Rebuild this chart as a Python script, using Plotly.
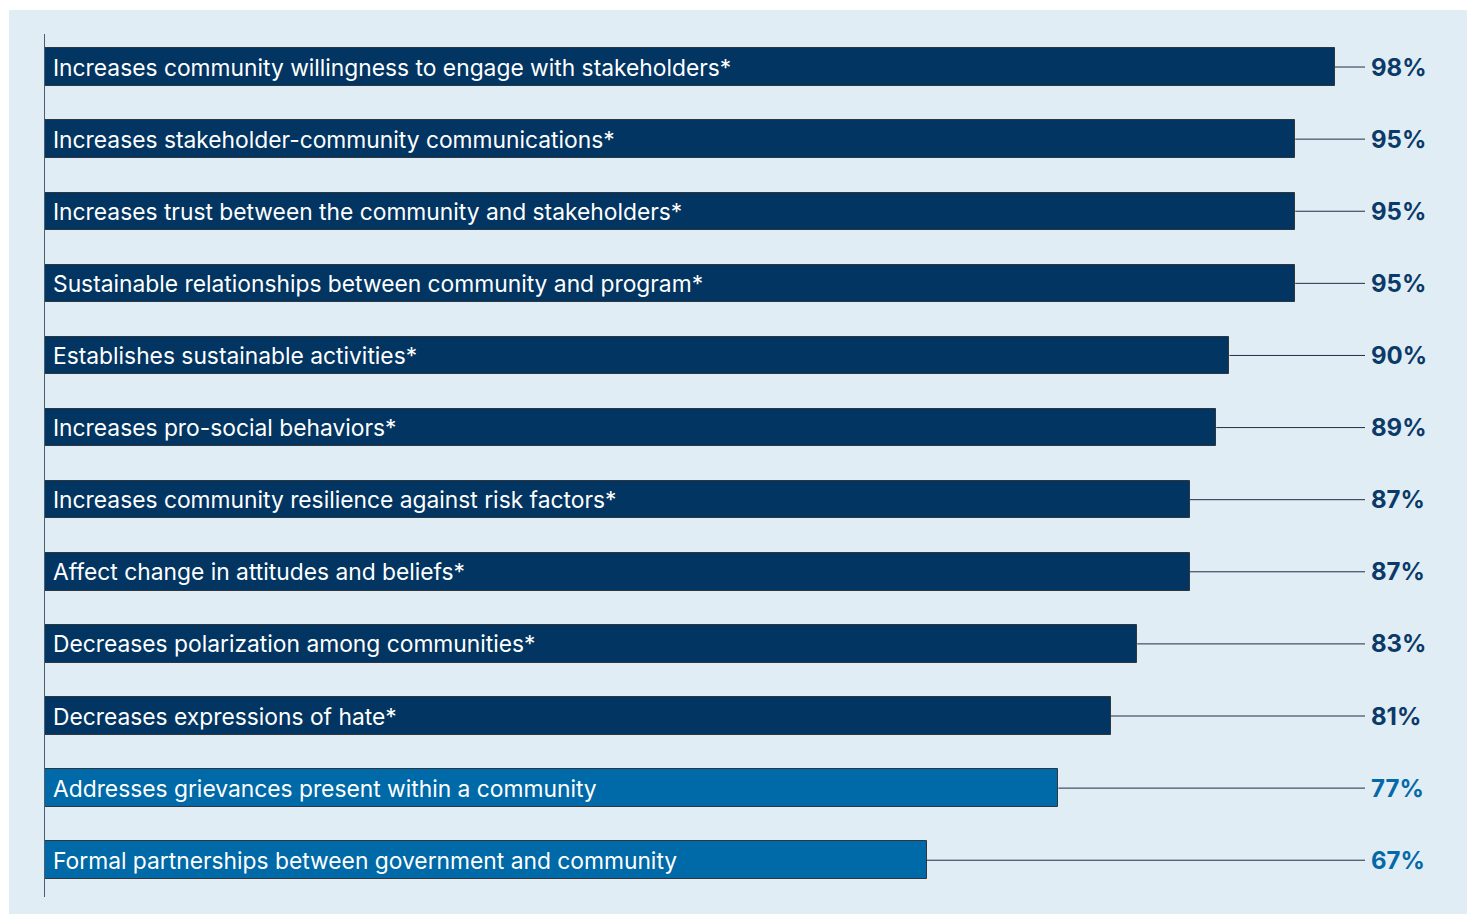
import plotly.graph_objects as go

# Survey outcomes, share of respondents reporting each effect (%)
outcomes = [
    "Increases community willingness to engage with stakeholders*",
    "Increases stakeholder-community communications*",
    "Increases trust between the community and stakeholders*",
    "Sustainable relationships between community and program*",
    "Establishes sustainable activities*",
    "Increases pro-social behaviors*",
    "Increases community resilience against risk factors*",
    "Affect change in attitudes and beliefs*",
    "Decreases polarization among communities*",
    "Decreases expressions of hate*",
    "Addresses grievances present within a community",
    "Formal partnerships between government and community",
]
percent = [98, 95, 95, 95, 90, 89, 87, 87, 83, 81, 77, 67]
significant = [True] * 10 + [False] * 2

DARK = "#023561"
LIGHT = "#0069a7"
LABEL_DARK = "#0b3a68"
LABEL_LIGHT = "#0569a8"
PANEL = "#e1edf5"
FONT = "Inter, 'Noto Sans', sans-serif"

W, H = 1467, 914
L, R, T, B = 45, 102, 34, 17
plot_w = W - L - R
plot_h = H - T - B
x_max = 100.3

pos = list(range(len(outcomes)))
bar_colors = [DARK if s else LIGHT for s in significant]
label_colors = [LABEL_DARK if s else LABEL_LIGHT for s in significant]

fig = go.Figure()
fig.add_trace(go.Bar(
    x=percent,
    y=pos,
    orientation="h",
    width=0.52,
    marker=dict(color=bar_colors, line=dict(color="#2e3640", width=1)),
    hoverinfo="skip",
))

shapes = [
    # light panel behind the chart
    dict(type="rect", xref="paper", yref="paper",
         x0=(9 - L) / plot_w, x1=(W - L) / plot_w,
         y0=-(B) / plot_h, y1=(H - B - 10) / plot_h,
         fillcolor=PANEL, line=dict(width=0), layer="below"),
]
annotations = []
for i, (name, v) in enumerate(zip(outcomes, percent)):
    # leader line from bar end to the value label
    shapes.append(dict(type="line", xref="x", yref="y",
                       x0=v, x1=x_max, y0=i, y1=i,
                       line=dict(color="#1f2f45", width=1), layer="below"))
    annotations.append(dict(x=0, y=i, xref="x", yref="y", text=name,
                            xanchor="left", yanchor="middle", xshift=6,
                            showarrow=False,
                            font=dict(family=FONT, size=22.8, color="white", weight=400)))
    annotations.append(dict(x=1, y=i, xref="paper", yref="y", text=f"<b>{v}%</b>",
                            xanchor="left", yanchor="middle", xshift=4,
                            showarrow=False,
                            font=dict(family=FONT, size=24, color=label_colors[i])))

fig.update_layout(
    width=W, height=H,
    margin=dict(l=L, r=R, t=T, b=B, pad=0),
    paper_bgcolor="white",
    plot_bgcolor=PANEL,
    showlegend=False,
    shapes=shapes,
    annotations=annotations,
    xaxis=dict(range=[0, x_max], showgrid=False, zeroline=False,
               showticklabels=False, ticks="", fixedrange=True),
    yaxis=dict(range=[11.51, -0.458], showgrid=False, zeroline=False,
               showticklabels=False, ticks="", showline=True,
               linecolor="#4d5d70", linewidth=1, fixedrange=True),
    bargap=0,
)

fig.write_html("out.html", config={"displayModeBar": False})
